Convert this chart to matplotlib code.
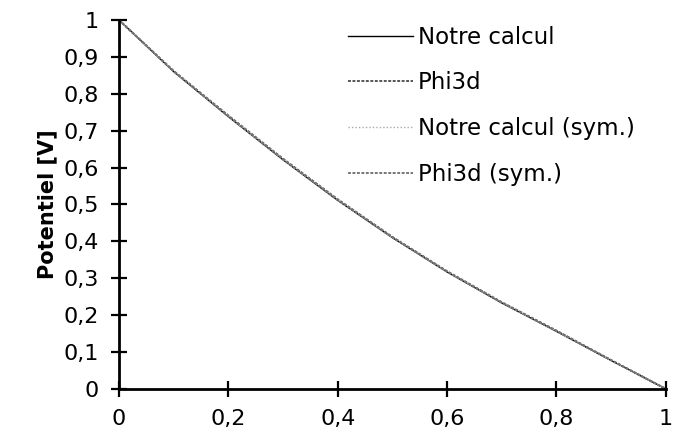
import numpy as np
import matplotlib.pyplot as plt

# Potential along the normalised distance
x = [0.0, 0.1, 0.2, 0.3, 0.4, 0.5, 0.6, 0.7, 0.8, 0.9, 1.0]
notre_calcul = [1.0, 0.860, 0.738, 0.621, 0.511, 0.410, 0.317, 0.233, 0.156, 0.077, 0.0]
phi3d = [1.0, 0.862, 0.741, 0.624, 0.514, 0.412, 0.319, 0.235, 0.158, 0.078, 0.0]
notre_calcul_sym = [1.0, 0.860, 0.738, 0.621, 0.511, 0.410, 0.317, 0.233, 0.156, 0.077, 0.0]
phi3d_sym = [1.0, 0.861, 0.740, 0.623, 0.513, 0.411, 0.318, 0.234, 0.157, 0.078, 0.0]

labels = ["Notre calcul", "Phi3d", "Notre calcul (sym.)", "Phi3d (sym.)"]
y_ticks = [0, 0.1, 0.2, 0.3, 0.4, 0.5, 0.6, 0.7, 0.8, 0.9, 1]
x_ticks = [0, 0.2, 0.4, 0.6, 0.8, 1]

plt.rcParams['font.family'] = ['DejaVu Sans']

fig = plt.figure(figsize=(6.76, 4.45), dpi=100)
ax = fig.add_axes([0.176, 0.126, 0.809, 0.829])

ax.plot(x, notre_calcul, color='black', linestyle='-', linewidth=1.0, label=labels[0])
ax.plot(x, phi3d, color='#555555', linestyle=(0, (1.5, 0.8)), linewidth=1.4, label=labels[1])
ax.plot(x, notre_calcul_sym, color='#aaaaaa', linestyle=(0, (1, 1.5)), linewidth=1.0, label=labels[2])
ax.plot(x, phi3d_sym, color='#777777', linestyle=(0, (1.5, 0.8)), linewidth=1.4, label=labels[3])

ax.set_xlim(0, 1)
ax.set_ylim(0, 1)
ax.set_xticks(x_ticks)
ax.set_yticks(y_ticks)
ax.set_xticklabels([f"{t:g}".replace('.', ',') for t in x_ticks])
ax.set_yticklabels([f"{t:g}".replace('.', ',') for t in y_ticks])

for side in ['top', 'right']:
    ax.spines[side].set_visible(False)
for side in ['left', 'bottom']:
    ax.spines[side].set_linewidth(2)
    ax.spines[side].set_clip_on(False)

ax.tick_params(axis='both', direction='inout', length=11, width=1.6, labelsize=16)
ax.tick_params(axis='x', pad=9)
ax.tick_params(axis='y', pad=9)

ax.set_ylabel("Potentiel [V]", fontsize=15, fontweight='bold', labelpad=4)

ax.legend(loc='upper left', bbox_to_anchor=(0.418, 0.985), frameon=False, fontsize=16.5,
          handlelength=2.85, handletextpad=0.22, labelspacing=0.99, borderpad=0,
          borderaxespad=0)

fig.savefig("out.png", dpi=100)
